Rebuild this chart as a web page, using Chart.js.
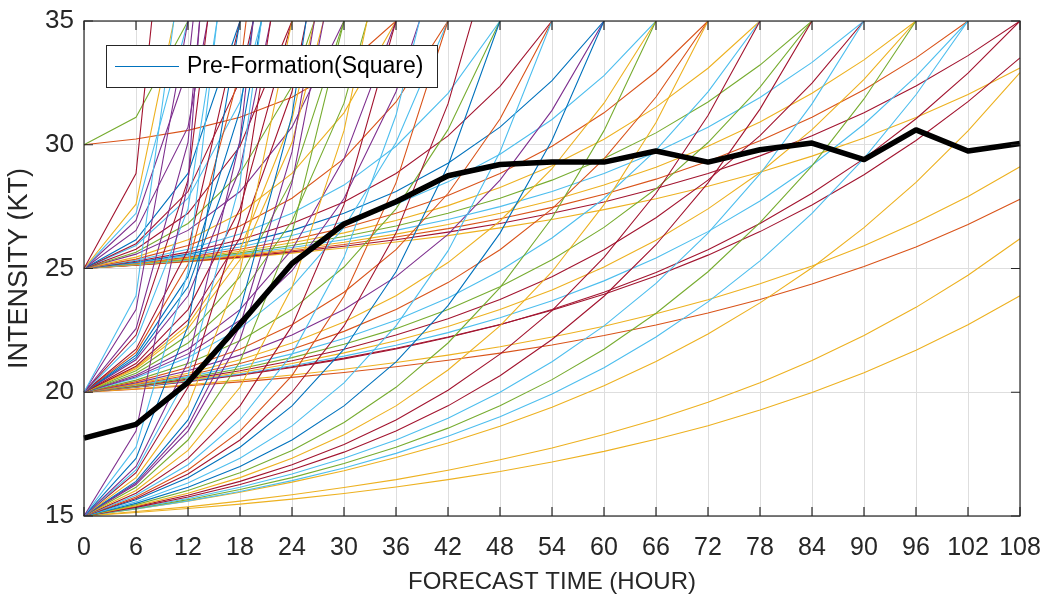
<!DOCTYPE html>
<html>
<head>
<meta charset="utf-8">
<script src="https://cdn.jsdelivr.net/npm/chart.js@4.4.1/dist/chart.umd.min.js"></script>
<style>
html,body{margin:0;padding:0;background:#fff;}
#wrap{position:relative;width:1045px;height:597px;}
</style>
</head>
<body>
<div id="wrap"><canvas id="intensityChart" width="1045" height="597"></canvas></div>
<script>
// forecast hour labels
const hours = [0,6,12,18,24,30,36,42,48,54,60,66,72,78,84,90,96,102,108];

// thick black line (mean)
const meanIntensity = [18.15,18.7,20.4,22.75,25.2,26.8,27.7,28.75,29.2,29.3,29.3,29.75,29.3,29.8,30.07,29.4,30.6,29.75,30.05];

// forecast tracks, grouped by starting intensity (values stop once the track leaves the top)
const start30 = [
[30,31.11,35],
[30,30.23,30.58,31.11,31.92,33.14,35]
];
const colors30 = ["G","O"];

const start25 = [
[25,28.84,49.17],
[25,27.6,37.78],
[25,27.23,35],
[25,26.94,33.1,52.6],
[25,26.54,30.71,42.07],
[25,26.16,28.84,35],
[25,26.0,28.11,32.59,42.07],
[25,25.93,27.84,31.73,39.67],
[25,25.78,27.23,29.94,35],
[25,25.66,26.82,28.84,32.36,38.49],
[25,25.58,26.54,28.11,30.71,35],
[25,25.46,26.16,27.23,28.84,31.29,35],
[25,25.38,25.93,26.72,27.84,29.44,31.73,35],
[25,25.33,25.78,26.39,27.23,28.37,29.94,32.08,35],
[25,25.29,25.66,26.16,26.82,27.69,28.84,30.36,32.36,35],
[25,25.25,25.58,26.0,26.54,27.23,28.11,29.25,30.71,32.59,35],
[25,25.23,25.52,25.87,26.33,26.89,27.6,28.5,29.62,31.02,32.79,35],
[25,25.21,25.46,25.78,26.16,26.64,27.23,27.95,28.84,29.94,31.29,32.95,35],
[25,25.19,25.42,25.7,26.04,26.44,26.94,27.54,28.27,29.15,30.22,31.52,33.09,35],
[25,25.18,25.38,25.63,25.93,26.29,26.72,27.23,27.84,28.57,29.44,30.48,31.73,33.22,35],
[25,25.16,25.35,25.58,25.85,26.16,26.54,26.98,27.5,28.11,28.84,29.7,30.71,31.91,33.33,35],
[25,25.15,25.33,25.54,25.78,26.06,26.39,26.78,27.23,27.75,28.37,29.09,29.94,30.92,32.08,33.43,35],
[25,25.14,25.31,25.5,25.72,25.97,26.27,26.61,27.01,27.47,28.0,28.61,29.33,30.16,31.11,32.22,33.51,35],
[25,25.13,25.29,25.46,25.67,25.9,26.16,26.47,26.82,27.23,27.69,28.23,28.84,29.55,30.36,31.29,32.37,33.6,35],
[25,25.13,25.27,25.43,25.62,25.83,26.07,26.33,26.64,26.98,27.38,27.82,28.32,28.89,29.54,30.27,31.1,32.03,33.1]
];
const colors25 = ["R","Y","L","P","P","B","R","L","R","G","P","Y","O","L","R","B","L","O","Y","G","L","Y","O","R","Y"];

const start20 = [
[20,23.9,39.17],
[20,23.34,35],
[20,22.57,30.09,52.04],
[20,22.31,28.57,45.6],
[20,22.08,27.41,41.0],
[20,21.74,25.76,35],
[20,21.61,25.16,32.98,50.21],
[20,21.5,24.67,31.39,45.6],
[20,21.4,24.26,30.09,42.0],
[20,21.31,23.9,29.03,39.17],
[20,21.16,23.34,27.41,35],
[20,21.05,22.91,26.23,32.14,42.67],
[20,21.0,22.73,25.76,31.04,40.24],
[20,20.95,22.57,25.35,30.09,38.2],
[20,20.87,22.31,24.67,28.57,35],
[20,20.77,21.99,23.9,26.92,31.68,39.17],
[20,20.69,21.74,23.34,25.76,29.43,35],
[20,20.63,21.55,22.91,24.91,27.83,32.14,38.47],
[20,20.58,21.4,22.57,24.26,26.66,30.09,35],
[20,20.49,21.16,22.08,23.34,25.06,27.41,30.61,35],
[20,20.43,21.0,21.74,22.73,24.04,25.76,28.03,31.04,35],
[20,20.38,20.87,21.5,22.31,23.34,24.67,26.38,28.57,31.39,35],
[20,20.34,20.77,21.31,21.99,22.84,23.9,25.24,26.92,29.03,31.68,35],
[20,20.31,20.69,21.16,21.74,22.46,23.34,24.43,25.76,27.41,29.43,31.93,35],
[20,20.29,20.63,21.05,21.55,22.17,22.91,23.81,24.91,26.23,27.83,29.78,32.14,35],
[20,20.26,20.58,20.95,21.4,21.94,22.57,23.34,24.26,25.35,26.66,28.22,30.09,32.33,35],
[20,20.24,20.53,20.87,21.27,21.74,22.31,22.97,23.75,24.67,25.76,27.05,28.57,30.37,32.49,35],
[20,20.23,20.49,20.8,21.16,21.59,22.08,22.66,23.34,24.13,25.06,26.14,27.41,28.88,30.61,32.64,35],
[20,20.21,20.46,20.74,21.07,21.46,21.9,22.41,23.01,23.7,24.5,25.42,26.49,27.73,29.17,30.83,32.76,35],
[20,20.2,20.43,20.69,21.0,21.35,21.75,22.21,22.73,23.34,24.04,24.84,25.76,26.82,28.04,29.44,31.05,32.89,35],
[20,20.21,20.45,20.72,21.03,21.38,21.78,22.23,22.74,23.31,23.96,24.7,25.54,26.49,27.57,28.79,30.17,31.74,33.51],
[20,20.14,20.3,20.49,20.7,20.93,21.2,21.5,21.84,22.23,22.67,23.17,23.74,24.38,25.1,25.92,26.86,27.91,29.11],
[20,20.12,20.26,20.42,20.6,20.8,21.03,21.29,21.58,21.91,22.29,22.72,23.2,23.75,24.37,25.08,25.87,26.78,27.8]
];
const colors20 = ["L","P","P","R","L","R","O","B","B","P","R","R","Y","Y","G","G","P","P","L","G","O","P","Y","O","L","G","R","Y","L","R","R","Y","O"];

const start15 = [
[15,18.43,28.46,57.72],
[15,17.78,24.87,43.0],
[15,17.33,22.68,35],
[15,17.0,21.23,30.18,49.14],
[15,16.86,20.67,28.46,44.34],
[15,16.75,20.2,27.04,40.56],
[15,16.55,19.45,24.87,35],
[15,16.4,18.88,23.31,31.19,45.22],
[15,16.33,18.64,22.68,29.71,41.98],
[15,16.27,18.43,22.13,28.46,39.26],
[15,16.16,18.07,21.23,26.43,35],
[15,16.03,17.65,20.2,24.23,30.57,40.56],
[15,15.92,17.33,19.45,22.68,27.58,35],
[15,15.84,17.07,18.88,21.54,25.45,31.19,39.62],
[15,15.77,16.86,18.43,20.67,23.88,28.46,35],
[15,15.71,16.7,18.07,20.0,22.68,26.43,31.65,38.94],
[15,15.66,16.55,17.78,19.45,21.74,24.87,29.15,35],
[15,15.57,16.33,17.33,18.64,20.38,22.68,25.71,29.71,35],
[15,15.51,16.16,17.0,18.07,19.45,21.23,23.5,26.43,30.18,35],
[15,15.46,16.03,16.75,17.65,18.78,20.2,21.99,24.23,27.04,30.57,35],
[15,15.41,15.92,16.55,17.33,18.28,19.45,20.9,22.68,24.87,27.58,30.9,35],
[15,15.38,15.84,16.4,17.07,17.89,18.88,20.08,21.54,23.3,25.45,28.04,31.18,35],
[15,15.35,15.77,16.27,16.87,17.58,18.43,19.45,20.67,22.13,23.88,25.96,28.46,31.44,35],
[15,15.32,15.71,16.16,16.7,17.33,18.07,18.95,20.0,21.23,22.68,24.4,26.43,28.82,31.65,35],
[15,15.3,15.66,16.07,16.55,17.12,17.78,18.55,19.45,20.51,21.74,23.19,24.87,26.85,29.15,31.85,35],
[15,15.28,15.61,15.99,16.43,16.94,17.53,18.22,19.01,19.93,20.99,22.23,23.65,25.31,27.23,29.45,32.02,35],
[15,15.14,15.3,15.48,15.68,15.91,16.17,16.47,16.8,17.18,17.61,18.1,18.65,19.28,19.99,20.79,21.7,22.73,23.9],
[15,15.18,15.37,15.6,15.86,16.15,16.47,16.85,17.27,17.75,18.29,18.9,19.6,20.38,21.28,22.29,23.43,24.73,26.2],
[15,15.28,15.6,15.96,16.37,16.83,17.36,17.95,18.63,19.39,20.26,21.24,22.35,23.61,25.03,26.65,28.48,30.56,32.91]
];
const colors15 = ["P","L","B","P","L","R","Y","B","P","P","G","Y","R","L","O","R","B","L","B","G","Y","R","R","L","G","L","Y","Y","Y"];

const yTicks = [15,20,25,30,35];

const matlab = {
B:"#0072BD",
O:"#D95319",
Y:"#EDB120",
P:"#7E2F8E",
G:"#77AC30",
L:"#4DBEEE",
R:"#A2142F"
};

const FONT = "'Liberation Sans', Arial, Helvetica, sans-serif";
const INK = "#262626";

const datasets = [{
label:"mean",
data:meanIntensity,
borderColor:"#000000",
borderWidth:5.5,
borderJoinStyle:"round",
pointRadius:0,
tension:0,
order:0
}];

function addGroup(lines, codes){
lines.forEach((line,i)=>{
datasets.push({
label:"track",
data:line,
borderColor:matlab[codes[i]],
borderWidth:1.1,
pointRadius:0,
tension:0,
order:1
});
});
}

addGroup(start15, colors15);
addGroup(start20, colors20);
addGroup(start25, colors25);
addGroup(start30, colors30);

// box round the axes with inward ticks on all four sides
const axesBox = {
id:"axesBox",
afterDatasetsDraw(chart){
const ctx = chart.ctx;
const a = chart.chartArea;
const xs = chart.scales.x;
const ys = chart.scales.y;
const len = 9;
ctx.save();
ctx.strokeStyle = INK;
ctx.lineWidth = 1.2;
ctx.strokeRect(a.left, a.top, a.right - a.left, a.bottom - a.top);
ctx.beginPath();
hours.forEach((h,i)=>{
const px = xs.getPixelForValue(i);
ctx.moveTo(px, a.bottom); ctx.lineTo(px, a.bottom - len);
ctx.moveTo(px, a.top); ctx.lineTo(px, a.top + len);
});
yTicks.forEach(v=>{
const py = ys.getPixelForValue(v);
ctx.moveTo(a.left, py); ctx.lineTo(a.left + len, py);
ctx.moveTo(a.right, py); ctx.lineTo(a.right - len, py);
});
ctx.stroke();
ctx.restore();
}
};

// legend box in the upper left of the plot
const legendBox = {
id:"legendBox",
afterDraw(chart){
const ctx = chart.ctx;
const x = 106, y = 45, w = 331, h = 42;
ctx.save();
ctx.fillStyle = "#ffffff";
ctx.fillRect(x, y, w, h);
ctx.strokeStyle = INK;
ctx.lineWidth = 1;
ctx.strokeRect(x + 0.5, y + 0.5, w, h);
ctx.strokeStyle = matlab.B;
ctx.lineWidth = 1.1;
ctx.beginPath();
ctx.moveTo(115, y + 21.5);
ctx.lineTo(179, y + 21.5);
ctx.stroke();
ctx.fillStyle = "#000000";
ctx.font = "23px " + FONT;
ctx.textBaseline = "middle";
ctx.fillText("Pre-Formation(Square)", 187, y + 22);
ctx.restore();
}
};

new Chart(document.getElementById("intensityChart"),{
type:"line",
data:{
labels:hours,
datasets
},
options:{
responsive:false,
animation:false,
events:[],
layout:{
padding:{top:21,right:25,left:0,bottom:0}
},
plugins:{
legend:{display:false},
tooltip:{enabled:false}
},
scales:{
x:{
type:"category",
offset:false,
grid:{color:"#dedede",lineWidth:1,drawTicks:false},
border:{display:false},
ticks:{
autoSkip:false,
maxRotation:0,
padding:17,
color:INK,
font:{family:FONT,size:25}
},
title:{
display:true,
text:"FORECAST TIME (HOUR)",
color:INK,
font:{family:FONT,size:24},
padding:{top:0,bottom:0}
},
afterFit(scale){
scale.height = 81;
scale.paddingLeft = 0;
scale.paddingRight = 0;
}
},
y:{
min:15,
max:35,
grid:{color:"#dedede",lineWidth:1,drawTicks:false},
border:{display:false},
ticks:{
stepSize:5,
padding:10,
color:INK,
font:{family:FONT,size:26}
},
title:{
display:true,
text:"INTENSITY (KT)",
color:INK,
font:{family:FONT,size:27},
padding:{top:3,bottom:0}
},
afterFit(scale){
scale.width = 84;
scale.paddingTop = 0;
scale.paddingBottom = 0;
}
}
}
},
plugins:[axesBox, legendBox]
});
</script>
</body>
</html>
